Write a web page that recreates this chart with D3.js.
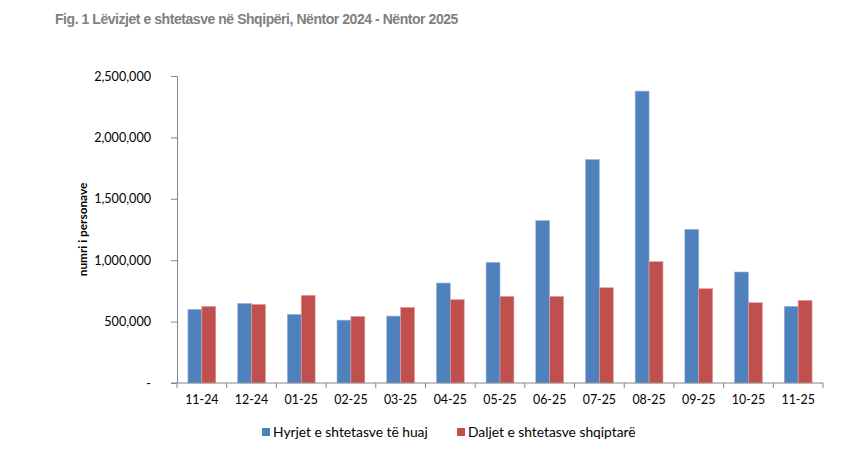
<!DOCTYPE html>
<html>
<head>
<meta charset="utf-8">
<script src="https://cdn.jsdelivr.net/npm/d3@7"></script>
<style>
  body { margin: 0; background: #fff; }
  .tick text { font-family: Lato, "Open Sans", sans-serif; }
</style>
</head>
<body>
<div id="chart"></div>
<script>
// data
var months = ["11-24", "12-24", "01-25", "02-25", "03-25", "04-25", "05-25",
  "06-25", "07-25", "08-25", "09-25", "10-25", "11-25"];
var hyrjet = [600000, 648000, 559000, 512000, 545000, 814000, 983000,
  1323000, 1820000, 2377000, 1252000, 904000, 624000];
var daljet = [624000, 640000, 714000, 542000, 616000, 679000, 705000,
  705000, 776000, 988000, 768000, 654000, 673000];
var seriesNames = ["Hyrjet e shtetasve të huaj", "Daljet e shtetasve shqiptarë"];
var yTicks = [0, 500000, 1000000, 1500000, 2000000, 2500000];

var svgWidth = 867;
var svgHeight = 450;
var margin = { top: 76, right: 44, bottom: 67, left: 177 };
var width = svgWidth - margin.left - margin.right;
var height = svgHeight - margin.top - margin.bottom;
var colors = ["#4F81BD", "#C0504D"];
var axisColor = "#868686";

var svg = d3.select("#chart")
  .append("svg")
  .attr("width", svgWidth)
  .attr("height", svgHeight);

// title
svg.append("text")
  .attr("x", 55)
  .attr("y", 24)
  .attr("fill", "#7f7f7f")
  .attr("font-family", "Liberation Sans, Arial, sans-serif")
  .attr("font-weight", "bold")
  .attr("font-size", 14)
  .attr("letter-spacing", -0.45)
  .text("Fig. 1 Lëvizjet e shtetasve në Shqipëri, Nëntor 2024 - Nëntor 2025");

var chartGroup = svg.append("g")
  .attr("transform", `translate(${margin.left}, ${margin.top})`);

var x0 = d3.scaleBand()
  .domain(months)
  .range([0, width])
  .paddingInner(0.44)
  .paddingOuter(0.22);

var x1 = d3.scaleBand()
  .domain([0, 1])
  .range([0, x0.bandwidth()]);

var y = d3.scaleLinear()
  .domain([0, 2500000])
  .range([height, 0]);

// bars
var groups = chartGroup.selectAll(".month")
  .data(months)
  .enter()
  .append("g")
  .attr("transform", d => `translate(${x0(d)}, 0)`);

groups.selectAll("rect")
  .data((d, i) => [hyrjet[i], daljet[i]])
  .enter()
  .append("rect")
  .attr("x", (d, j) => x1(j))
  .attr("y", d => y(d))
  .attr("width", x1.bandwidth())
  .attr("height", d => height - y(d))
  .attr("fill", (d, j) => colors[j])
  .attr("stroke", (d, j) => j === 0 ? "#9fb8dc" : "#e0a09e")
  .attr("stroke-width", 0.6);

// y axis
var leftAxis = d3.axisLeft(y)
  .tickValues(yTicks)
  .tickSize(6)
  .tickPadding(20)
  .tickFormat(d => d === 0 ? "-" : d3.format(",")(d));

var yAxis = chartGroup.append("g").call(leftAxis);
yAxis.select(".domain").attr("stroke", axisColor).attr("d", `M-6,0.5H0.5V${height}`);
yAxis.selectAll(".tick line").attr("stroke", axisColor);
yAxis.selectAll(".tick text")
  .attr("font-size", 12.6)
  .attr("fill", "#000");

// x axis with ticks at category boundaries
var xAxis = chartGroup.append("g")
  .attr("transform", `translate(0, ${height})`);
xAxis.append("line")
  .attr("x1", -6).attr("x2", width)
  .attr("stroke", axisColor);
xAxis.selectAll(".xtick")
  .data(d3.range(months.length + 1))
  .enter()
  .append("line")
  .attr("x1", d => d * width / months.length)
  .attr("x2", d => d * width / months.length)
  .attr("y1", 0).attr("y2", 5)
  .attr("stroke", axisColor);
xAxis.selectAll(".xlabel")
  .data(months)
  .enter()
  .append("text")
  .attr("x", d => x0(d) + x0.bandwidth() / 2)
  .attr("y", 21)
  .attr("text-anchor", "middle")
  .attr("font-family", "Lato, 'Open Sans', sans-serif")
  .attr("font-size", 12.4)
  .text(d => d);

// y axis title
chartGroup.append("text")
  .attr("transform", "rotate(-90)")
  .attr("x", -(height / 2))
  .attr("y", -90)
  .attr("text-anchor", "middle")
  .attr("font-family", "Lato, 'Open Sans', sans-serif")
  .attr("font-weight", "bold")
  .attr("font-size", 11.8)
  .text("numri i personave");

// legend
var legendX = [262, 457];
var legend = svg.selectAll(".legend")
  .data(seriesNames)
  .enter()
  .append("g")
  .attr("transform", (d, i) => `translate(${legendX[i]}, 428)`);
legend.append("rect")
  .attr("width", 8).attr("height", 8)
  .attr("fill", (d, i) => colors[i]);
legend.append("text")
  .attr("x", 11)
  .attr("y", 8.5)
  .attr("font-family", "Lato, 'Open Sans', sans-serif")
  .attr("font-size", 13.8)
  .text(d => d);
</script>
</body>
</html>
